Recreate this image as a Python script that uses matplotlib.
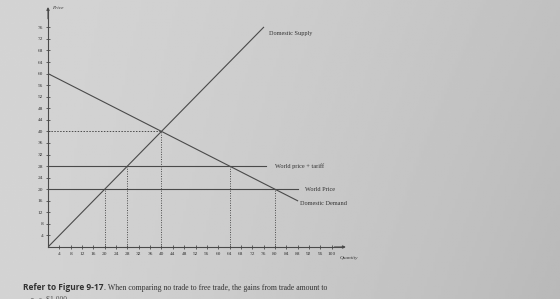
import matplotlib
matplotlib.use("Agg")
import matplotlib.pyplot as plt
import numpy as np

# values
price_ticks = list(range(4, 80, 4))
qty_ticks = list(range(4, 104, 4))

supply_q = [0, 76]
supply_p = [0, 76]
demand_q = [0, 88]
demand_p = [60, 16]

world_price = 20
world_price_end = 88
tariff_price = 28
tariff_price_end = 77

equilibrium = (40, 40)
drop_q = [20, 28, 40, 64, 80]
drop_p = [20, 28, 40, 28, 20]

bg = "#d2d2d0"
ink = "#4a4a4a"
txt = "#333333"

fig = plt.figure(figsize=(5.6, 2.99), dpi=100, facecolor=bg)

# photo background: lighter on the left, darker to the right
bg_ax = fig.add_axes([0, 0, 1, 1], zorder=-1)
xx = np.linspace(0, 1, 200)
yy = np.linspace(0, 1, 100)
X, Y = np.meshgrid(xx, yy)
shade = 0.83 - 0.075 * X ** 1.5 - 0.03 * Y * X
bg_ax.imshow(shade, cmap="gray", vmin=0, vmax=1, aspect="auto", extent=[0, 1, 0, 1], origin="upper")
bg_ax.axis("off")

ax = fig.add_axes([48 / 560, 52 / 299, 295 / 560, 237 / 299])
ax.set_facecolor("none")
ax.set_xlim(0, 104)
ax.set_ylim(0, 82)

ax.plot(supply_q, supply_p, color=ink, lw=0.8)
ax.plot(demand_q, demand_p, color=ink, lw=0.8)
ax.plot([0, world_price_end], [world_price, world_price], color=ink, lw=0.8)
ax.plot([0, tariff_price_end], [tariff_price, tariff_price], color=ink, lw=0.8)

ax.plot([0, equilibrium[0]], [equilibrium[1], equilibrium[1]], color=ink, lw=0.7, ls=(0, (1.5, 1.5)))
for q, p in zip(drop_q, drop_p):
    ax.plot([q, q], [0, p], color=ink, lw=0.7, ls=(0, (1, 1.5)))

serif = "Liberation Serif"
ax.text(78, 73.5, "Domestic Supply", fontsize=4.5, family=serif, color=txt)
ax.text(80, 27.5, "World price + tariff", fontsize=4.5, family=serif, color=txt)
ax.text(90.5, 19.5, "World Price", fontsize=4.5, family=serif, color=txt)
ax.text(89, 14.5, "Domestic Demand", fontsize=4.5, family=serif, color=txt)

for s in ["top", "right"]:
    ax.spines[s].set_visible(False)
for s in ["left", "bottom"]:
    ax.spines[s].set_color(ink)
    ax.spines[s].set_linewidth(0.8)
ax.annotate("", xy=(106, 0), xytext=(100, 0), xycoords="data",
            arrowprops=dict(arrowstyle="-|>", color=ink, lw=0.8, mutation_scale=4),
            annotation_clip=False)
ax.annotate("", xy=(0, 84), xytext=(0, 78), xycoords="data",
            arrowprops=dict(arrowstyle="-|>", color=ink, lw=0.8, mutation_scale=4),
            annotation_clip=False)
ax.text(1.5, 82.5, "Price", fontsize=3.8, style="italic", family=serif, color=txt, clip_on=False)
ax.text(103, -4.2, "Quantity", fontsize=3.8, style="italic", family=serif, color=txt, clip_on=False)

ax.set_xticks(qty_ticks)
ax.set_yticks(price_ticks)
ax.set_xticklabels([str(t) for t in qty_ticks], fontsize=3.9, family=serif, color=txt)
ax.set_yticklabels([str(t) for t in price_ticks], fontsize=3.9, family=serif, color=txt)
ax.tick_params(direction="inout", length=3, width=0.6, color=ink, pad=2)

fig.text(23 / 560, 1 - 288 / 299, "Refer to Figure 9-17", fontsize=6, weight="bold",
         family="Open Sans", color=txt, va="center")
fig.text(104 / 560, 1 - 288 / 299, ". When comparing no trade to free trade, the gains from trade amount to",
         fontsize=5.6, family=serif, color=txt, va="center")
fig.text(30 / 560, 1 - 300 / 299, "\u25cb  a. $1,000", fontsize=5.6, family=serif, color="#555555", va="center")

fig.savefig("out.png", dpi=100, facecolor=bg)
